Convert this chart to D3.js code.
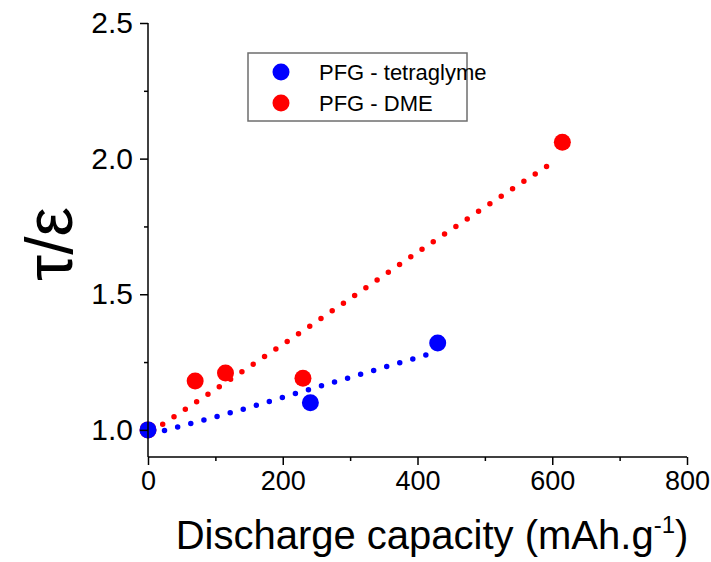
<!DOCTYPE html>
<html>
<head>
<meta charset="utf-8">
<script src="https://cdn.jsdelivr.net/npm/d3@7"></script>
<style>
  body { margin: 0; background: #fff; }
  svg text { font-family: "Liberation Sans", Arial, sans-serif; fill: #000; }
</style>
</head>
<body>
<div id="chart-container"></div>
<script>
// measured points
const blueX = [0, 241, 430];
const blueY = [1.0, 1.10, 1.32];
const redX = [0, 70, 115, 230, 615];
const redY = [1.0, 1.18, 1.21, 1.19, 2.06];

// fitted trend lines
const blueFitX = [5, 121, 242, 425];
const blueFitY = [0.985, 1.062, 1.151, 1.285];
const redFitX = [5, 225, 427, 603];
const redFitY = [0.993, 1.357, 1.70, 1.99];

const xTicks = [0, 200, 400, 600, 800];
const xMinor = [100, 300, 500, 700];
const yTicks = [1.0, 1.5, 2.0, 2.5];
const yMinor = [1.25, 1.75, 2.25];

const seriesNames = ["PFG - tetraglyme", "PFG - DME"];
const seriesColors = ["#0000ff", "#ff0000"];

const width = 711, height = 562;

const svg = d3.select("#chart-container").append("svg")
    .attr("width", width)
    .attr("height", height);

const x = d3.scaleLinear().domain([0, 800]).range([148, 687]);
const y = d3.scaleLinear().domain([0.9, 2.5]).range([457, 23]);

// fit lines
const line = d3.line().x(d => x(d[0])).y(d => y(d[1])).curve(d3.curveMonotoneX);

function drawFit(xs, ys, color) {
    svg.append("path")
        .attr("d", line(d3.zip(xs, ys)))
        .attr("fill", "none")
        .attr("stroke", color)
        .attr("stroke-width", 5.5)
        .attr("stroke-linecap", "round")
        .attr("stroke-dasharray", "0 13.6");
}

function drawPoints(xs, ys, color) {
    svg.append("g").selectAll("circle")
        .data(d3.zip(xs, ys))
        .enter().append("circle")
        .attr("cx", d => x(d[0]))
        .attr("cy", d => y(d[1]))
        .attr("r", 8.5)
        .attr("fill", color);
}

drawFit(redFitX, redFitY, seriesColors[1]);
drawFit(blueFitX, blueFitY, seriesColors[0]);
drawPoints(redX, redY, seriesColors[1]);
drawPoints(blueX, blueY, seriesColors[0]);

// x axis
const xAxis = svg.append("g")
    .attr("transform", `translate(0,${y(0.9)})`)
    .call(d3.axisBottom(x).tickValues(xTicks).tickSize(8).tickPadding(6).tickFormat(d3.format("d")));
xAxis.selectAll("text").attr("font-size", 27).attr("dy", "0.71em");
svg.append("g")
    .attr("transform", `translate(0,${y(0.9)})`)
    .call(d3.axisBottom(x).tickValues(xMinor).tickSize(4).tickFormat(""))
    .select(".domain").remove();

// y axis
const yAxis = svg.append("g")
    .attr("transform", `translate(${x(0)},0)`)
    .call(d3.axisLeft(y).tickValues(yTicks).tickSize(8).tickPadding(7).tickFormat(d3.format(".1f")));
yAxis.selectAll("text").attr("font-size", 30);
svg.append("g")
    .attr("transform", `translate(${x(0)},0)`)
    .call(d3.axisLeft(y).tickValues(yMinor).tickSize(4).tickFormat(""))
    .select(".domain").remove();

svg.selectAll(".domain").attr("stroke-width", 1.5);
svg.selectAll(".tick line").attr("stroke-width", 1.5);
// plain axis lines without the end caps
xAxis.select(".domain").attr("d", `M${x(0)},0H${x(800)}`);
yAxis.select(".domain").attr("d", `M0,${y(0.9)}V${y(2.5)}`);

// axis titles
const xTitle = svg.append("text")
    .attr("x", 432)
    .attr("y", 549)
    .attr("text-anchor", "middle")
    .attr("font-size", 40);
xTitle.append("tspan").text("Discharge capacity (mAh.g");
xTitle.append("tspan").attr("font-size", 24).attr("dy", -16).text("-1");
xTitle.append("tspan").attr("dy", 16).text(")");

svg.append("text")
    .attr("transform", "translate(72,244) rotate(-90)")
    .attr("text-anchor", "middle")
    .attr("font-size", 66)
    .text("τ/ε");

// legend
const legend = svg.append("g").attr("transform", "translate(248,53)");
legend.append("rect")
    .attr("width", 219)
    .attr("height", 68)
    .attr("fill", "#fff")
    .attr("stroke", "#6e6e6e")
    .attr("stroke-width", 1.5);
const items = legend.selectAll(".legend")
    .data(seriesNames)
    .enter().append("g")
    .attr("class", "legend")
    .attr("transform", (d, i) => `translate(0,${19 + i * 31})`);
items.append("circle")
    .attr("cx", 33)
    .attr("r", 8.5)
    .attr("fill", (d, i) => seriesColors[i]);
items.append("text")
    .attr("x", 71)
    .attr("dy", "0.35em")
    .attr("font-size", 22)
    .text(d => d);
</script>
</body>
</html>
